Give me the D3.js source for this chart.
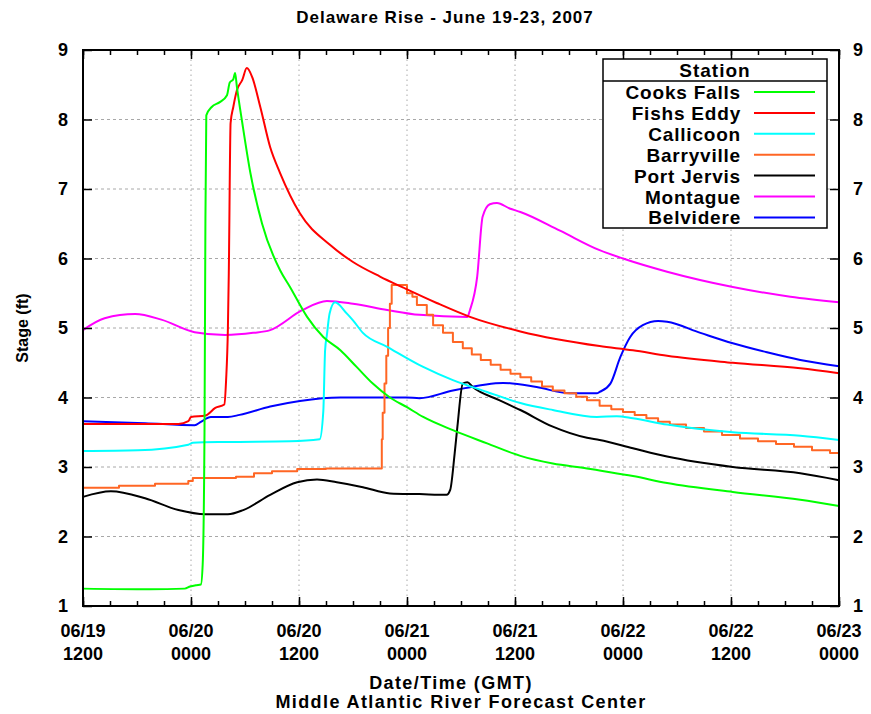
<!DOCTYPE html>
<html>
<head>
<meta charset="utf-8">
<script src="https://cdn.jsdelivr.net/npm/d3@7"></script>
<style>
  body { margin: 0; background: #fff; }
  svg { display: block; }
  text { font-family: "Liberation Sans", Arial, sans-serif; font-weight: bold; fill: #000; }
</style>
</head>
<body>
<svg></svg>
<script>
// Data: hours after 06/19 1200 GMT, stage in feet
var stationNames = ["Cooks Falls", "Fishs Eddy", "Callicoon", "Barryville", "Port Jervis", "Montague", "Belvidere"];
var stationColors = ["#00ff00", "#ff0000", "#00ffff", "#ff6624", "#000000", "#ff00ff", "#0000ff"];

var cooksFalls = [[0,1.25],[7.4,1.24],[11.3,1.25],[11.9,1.28],[12.6,1.30],[13.1,1.31],[13.3,1.6],[13.5,3.5],
  [13.6,6.5],[13.7,8.06],[14.3,8.18],[15.2,8.25],[16,8.35],[16.3,8.53],[16.7,8.58],[16.9,8.67],[17.1,8.47],
  [17.7,7.95],[18.6,7.23],[19.9,6.5],[21.9,5.83],[23,5.59],[24.9,5.16],[26.7,4.87],[28.6,4.68],[30.4,4.44],
  [32.2,4.2],[34.1,4.0],[36,3.86],[37.8,3.72],[41.1,3.53],[44.9,3.34],[48.6,3.16],[52.2,3.05],[56,2.98],
  [57.4,2.95],[61.1,2.87],[64.9,2.77],[72.2,2.64],[79.7,2.53],[84,2.44]];

var fishsEddy = [[0,3.62],[10.6,3.62],[11.7,3.66],[12,3.72],[13.6,3.74],[14.7,3.85],[15.7,3.9],[15.9,4.25],
  [16.1,5.0],[16.2,5.79],[16.4,7.95],[16.7,8.18],[17.1,8.42],[17.7,8.57],[18.2,8.74],[18.8,8.61],[19.7,8.18],
  [20.8,7.6],[21.9,7.23],[24.1,6.65],[27.4,6.2],[30,5.95],[33,5.74],[35.6,5.58],[39.3,5.36],[43,5.16],
  [48.6,4.95],[57.4,4.74],[61.1,4.68],[64.9,4.6],[72.2,4.5],[79.7,4.42],[84,4.35]];

var callicoon = [[0,3.23],[6.1,3.24],[11.7,3.32],[12.2,3.35],[16.1,3.36],[23,3.37],[26.3,3.4],[26.7,3.8],
  [26.9,4.68],[27.1,4.9],[27.4,5.21],[28,5.37],[29.3,5.21],[30,5.11],[31.1,4.93],[33.8,4.73],[37.8,4.44],
  [41.1,4.25],[44.9,4.08],[48.6,3.92],[52.2,3.82],[57.1,3.72],[59.3,3.73],[61.1,3.7],[64.9,3.61],
  [72.2,3.5],[79.7,3.45],[84,3.39]];

var barryville = [[0,2.70],[4,2.73],[8,2.76],[11.7,2.80],[12.2,2.84],[15,2.84],[17,2.86],[19,2.91],[21,2.94],
  [23.8,2.97],[27,2.98],[33.0,2.98],[33.2,3.4],[33.3,3.78],[33.5,4.2],[33.7,4.6],[33.9,5.0],[34.1,5.35],
  [34.3,5.62],[36.0,5.50],[36.6,5.45],[37.1,5.33],[38.2,5.19],[38.9,5.04],[40.0,4.93],[41.1,4.80],[42.2,4.71],
  [43.2,4.62],[44.2,4.54],[45.3,4.47],[46.4,4.40],[47.5,4.34],[48.6,4.29],[49.8,4.23],[51.0,4.16],[52.2,4.10],
  [53.5,4.06],[54.8,4.01],[56.0,3.96],[57.4,3.88],[58.7,3.83],[60.0,3.79],[61.3,3.75],[62.6,3.70],[63.9,3.65],
  [65.2,3.61],[67,3.56],[69,3.51],[71,3.46],[73,3.41],[75,3.37],[77,3.33],[79,3.29],[81,3.24],[83,3.20],[84,3.17]];

var portJervis = [[0,2.57],[3.1,2.65],[6.9,2.55],[10.6,2.38],[13.6,2.32],[16.1,2.32],[17.8,2.38],[20.8,2.6],
  [23.8,2.78],[26,2.82],[28.2,2.78],[31.1,2.71],[34.1,2.62],[37.4,2.61],[40.4,2.6],[40.8,2.67],[41.3,3.2],
  [41.6,3.58],[42.2,4.2],[42.7,4.22],[43.3,4.15],[46.3,3.96],[48.6,3.82],[52.2,3.58],[56,3.42],[57.4,3.39],
  [61.1,3.27],[64.9,3.15],[72.2,3.0],[79.7,2.91],[84,2.81]];

var montague = [[0,4.97],[2.4,5.14],[5.8,5.2],[8.7,5.12],[12.4,4.94],[15.8,4.9],[18.9,4.93],[20.8,4.97],
  [24.4,5.26],[27.1,5.39],[30,5.35],[33.8,5.26],[37.4,5.19],[42.7,5.16],[43,5.26],[43.8,5.74],[44.4,6.6],
  [45.2,6.78],[46,6.8],[47.4,6.72],[48.6,6.67],[53,6.4],[57.4,6.12],[60,6.0],[64.9,5.81],[72.2,5.59],
  [78.6,5.45],[84,5.37]];

var belvidere = [[0,3.66],[6.9,3.63],[12.4,3.6],[13.1,3.65],[14.2,3.72],[16.1,3.72],[17.4,3.75],[20.8,3.87],
  [24.1,3.95],[28.6,4.0],[35.9,4.0],[37.4,3.99],[41.1,4.1],[46.7,4.21],[50.4,4.15],[54.1,4.06],[57.1,4.06],
  [57.4,4.08],[58.6,4.2],[59.7,4.58],[60.8,4.87],[62.2,5.04],[63.9,5.1],[64.9,5.09],[68.6,4.93],[72.2,4.78],
  [76,4.65],[79.7,4.54],[84,4.45]];

var stationData = [cooksFalls, fishsEddy, callicoon, barryville, portJervis, montague, belvidere];
var yTicks = [1, 2, 3, 4, 5, 6, 7, 8, 9];

var w = 871, h = 714;
var margin = { top: 50, right: 32, bottom: 108, left: 83 };
var startTime = Date.UTC(2007, 5, 19, 12);
function toDate(hr) { return new Date(startTime + hr * 3600e3); }

var svg = d3.select("svg").attr("width", w).attr("height", h);

var x = d3.scaleUtc()
    .domain([toDate(0), toDate(84)])
    .range([margin.left, w - margin.right]);
var y = d3.scaleLinear()
    .domain([1, 9])
    .range([h - margin.bottom, margin.top]);

var majorTicks = d3.utcHour.every(12).range(toDate(0), toDate(84.1));
var minorTicks = d3.utcHour.every(3).range(toDate(0), toDate(84.1));

// gridlines
var grid = svg.append("g").attr("class", "grid");
grid.selectAll("line.v")
    .data(majorTicks.slice(1, -1))
    .enter().append("line")
    .attr("x1", d => x(d)).attr("x2", d => x(d))
    .attr("y1", y(1)).attr("y2", y(9))
    .attr("stroke-dasharray", "1.5,3.5");
grid.selectAll("line.h")
    .data(yTicks.slice(1, -1))
    .enter().append("line")
    .attr("x1", x.range()[0]).attr("x2", x.range()[1])
    .attr("y1", d => y(d)).attr("y2", d => y(d))
    .attr("stroke-dasharray", "3,3");
grid.selectAll("line")
    .attr("stroke", "#a8a8a8")
    .attr("stroke-width", 1);

// data lines (first station drawn last so it sits on top)
var line = d3.line().x(d => x(toDate(d[0]))).y(d => y(d[1]));
for (var i = stationData.length - 1; i >= 0; i--) {
    line.curve(stationNames[i] === "Barryville" ? d3.curveStepAfter : d3.curveMonotoneX);
    svg.append("path")
        .attr("d", line(stationData[i]))
        .attr("fill", "none")
        .attr("stroke", stationColors[i])
        .attr("stroke-width", 2)
        .attr("stroke-linejoin", "round");
}

// axes with inward ticks
function tickAxis(axis, transform) {
    var g = svg.append("g").attr("transform", transform).call(axis);
    g.select(".domain").remove();
    g.selectAll("line").attr("stroke", "#000").attr("stroke-width", 1.5);
    return g;
}
var bottomY = y(1), topY = y(9);
tickAxis(d3.axisBottom(x).tickValues(minorTicks).tickSize(-5).tickFormat(""), "translate(0," + bottomY + ")");
tickAxis(d3.axisBottom(x).tickValues(majorTicks).tickSize(-9).tickFormat(""), "translate(0," + bottomY + ")");
tickAxis(d3.axisTop(x).tickValues(minorTicks).tickSize(-5).tickFormat(""), "translate(0," + topY + ")");
tickAxis(d3.axisTop(x).tickValues(majorTicks).tickSize(-9).tickFormat(""), "translate(0," + topY + ")");
tickAxis(d3.axisLeft(y).tickValues(yTicks).tickSize(-9).tickFormat(""), "translate(" + x.range()[0] + ",0)");
tickAxis(d3.axisRight(y).tickValues(yTicks).tickSize(-9).tickFormat(""), "translate(" + x.range()[1] + ",0)");

// frame
svg.append("rect")
    .attr("x", x.range()[0]).attr("y", topY)
    .attr("width", x.range()[1] - x.range()[0]).attr("height", bottomY - topY)
    .attr("fill", "none").attr("stroke", "#000").attr("stroke-width", 2);

// tick labels
var fmtDay = d3.utcFormat("%m/%d"), fmtHour = d3.utcFormat("%H%M");
var xl = svg.append("g").selectAll("text")
    .data(majorTicks)
    .enter().append("text")
    .attr("text-anchor", "middle")
    .style("font-size", "18px");
xl.append("tspan").attr("x", d => x(d)).attr("y", 637).text(d => fmtDay(d));
xl.append("tspan").attr("x", d => x(d)).attr("y", 660).text(d => fmtHour(d));

svg.append("g").selectAll("text")
    .data(yTicks)
    .enter().append("text")
    .attr("x", 68).attr("y", d => y(d) + 6)
    .attr("text-anchor", "end")
    .style("font-size", "18px")
    .text(d => d);
svg.append("g").selectAll("text")
    .data(yTicks)
    .enter().append("text")
    .attr("x", 853).attr("y", d => y(d) + 6)
    .style("font-size", "18px")
    .text(d => d);

// titles
svg.append("text").attr("x", 445).attr("y", 23).attr("text-anchor", "middle")
    .style("font-size", "17px").style("letter-spacing", "1px")
    .text("Delaware Rise - June 19-23, 2007");
svg.append("text").attr("x", 451).attr("y", 689).attr("text-anchor", "middle")
    .style("font-size", "18px").style("letter-spacing", "1.4px")
    .text("Date/Time (GMT)");
svg.append("text").attr("x", 461).attr("y", 708).attr("text-anchor", "middle")
    .style("font-size", "18px").style("letter-spacing", "1.4px")
    .text("Middle Atlantic River Forecast Center");
svg.append("text")
    .attr("transform", "translate(28," + y(5) + ") rotate(-90)")
    .attr("text-anchor", "middle")
    .style("font-size", "16px")
    .text("Stage (ft)");

// legend
var legend = svg.append("g").attr("class", "legend");
legend.append("rect")
    .attr("x", 603).attr("y", 59).attr("width", 224).attr("height", 169)
    .attr("fill", "#fff").attr("stroke", "#000").attr("stroke-width", 1.5);
legend.append("line")
    .attr("x1", 603).attr("x2", 827).attr("y1", 81).attr("y2", 81)
    .attr("stroke", "#000").attr("stroke-width", 1.5);
legend.append("text").attr("x", 715).attr("y", 77).attr("text-anchor", "middle")
    .style("font-size", "19px").style("letter-spacing", "1px").text("Station");
var rows = legend.selectAll("g.row")
    .data(stationNames)
    .enter().append("g")
    .attr("transform", (d, i) => "translate(0," + (92 + i * 20.9) + ")");
rows.append("text")
    .attr("x", 741).attr("y", 7)
    .attr("text-anchor", "end")
    .style("font-size", "19px").style("letter-spacing", "0.8px")
    .text(d => d);
rows.append("line")
    .attr("x1", 754).attr("x2", 815)
    .attr("stroke", (d, i) => stationColors[i])
    .attr("stroke-width", 2);
</script>
</body>
</html>
